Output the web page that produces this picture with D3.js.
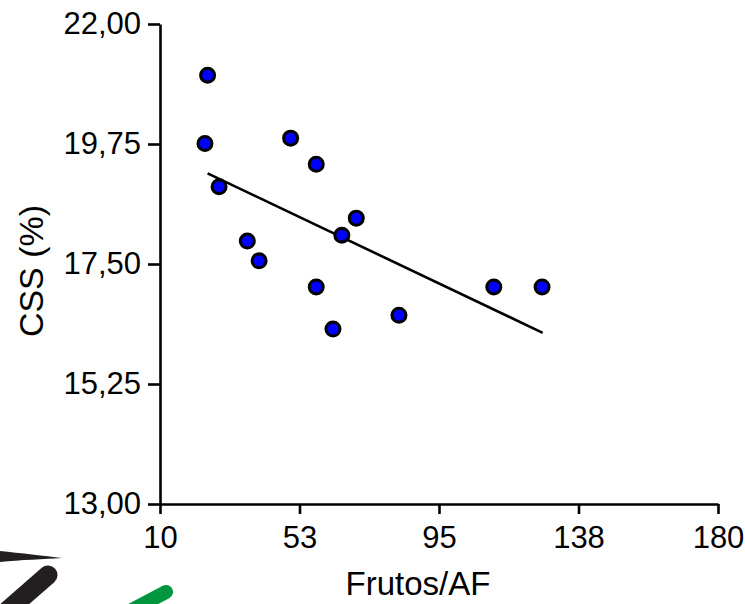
<!DOCTYPE html>
<html>
<head>
<meta charset="utf-8">
<script src="https://cdn.jsdelivr.net/npm/d3@7"></script>
<style>
  body { margin: 0; background: #fff; }
  text { font-family: "Liberation Sans", Arial, sans-serif; fill: #000; }
</style>
</head>
<body>
<script>
// Frutos/AF vs CSS (%) scatter with fitted line

const frutos = [24.5, 23.7, 28.0, 49.8, 57.6, 36.6, 40.2, 69.8, 65.4, 57.6, 62.7, 82.8, 111.7, 126.4];
const css    = [21.04, 19.76, 18.95, 19.86, 19.37, 17.93, 17.56, 18.36, 18.04, 17.07, 16.28, 16.54, 17.07, 17.07];

// ends of the regression line
const trendX = [24.5, 126.6];
const trendY = [19.20, 16.21];

const xTicks = [10, 52.5, 95, 137.5, 180];
const yTicks = [13, 15.25, 17.5, 19.75, 22];

let svg = null;
let x, y = null;

const W = 745, H = 604;
const plot = {left: 160, right: 718, top: 24, bottom: 504};

appendSvg("body");
appendDecoration();
setupScales();
appendXAxis();
appendYAxis();
appendTrend();
appendPoints();
appendLabels();

function appendSvg(domElement) {
  svg = d3.select(domElement).append("svg")
    .attr("width", W)
    .attr("height", H);
}

// bits of a logo cut off at the lower left corner
function appendDecoration() {
  const g = svg.append("g");
  g.append("path")
    .attr("d", "M0,551 C20,553 45,556 62,558 C45,559 20,560 0,562 Z")
    .attr("fill", "#231f20");
  g.append("path")
    .attr("d", "M48,575 L8,610")
    .attr("stroke", "#231f20")
    .attr("stroke-width", 19)
    .attr("stroke-linecap", "round");
  g.append("path")
    .attr("d", "M166,592 L128,612")
    .attr("stroke", "#009640")
    .attr("stroke-width", 14)
    .attr("stroke-linecap", "round");
}

function setupScales() {
  x = d3.scaleLinear()
    .domain([10, 180])
    .range([plot.left, plot.right]);

  y = d3.scaleLinear()
    .domain([13, 22])
    .range([plot.bottom, plot.top]);
}

function appendXAxis() {
  const ax = svg.append("g")
    .attr("transform", `translate(0, ${plot.bottom})`)
    .call(d3.axisBottom(x)
      .tickValues(xTicks)
      .tickFormat(d => Math.round(d))
      .tickSize(10)
      .tickSizeOuter(0)
      .tickPadding(12));
  styleAxis(ax);
}

function appendYAxis() {
  const fmt = d3.formatLocale({decimal: ",", thousands: ".", grouping: [3], currency: ["", ""]}).format(".2f");
  const ax = svg.append("g")
    .attr("transform", `translate(${plot.left}, 0)`)
    .call(d3.axisLeft(y)
      .tickValues(yTicks)
      .tickFormat(fmt)
      .tickSize(12)
      .tickSizeOuter(0)
      .tickPadding(7));
  styleAxis(ax);
}

function styleAxis(ax) {
  ax.select(".domain").attr("stroke", "#000").attr("stroke-width", 2.6);
  ax.selectAll(".tick line").attr("stroke", "#000").attr("stroke-width", 2.6);
  ax.selectAll(".tick text")
    .style("font-family", "'Liberation Sans', Arial, sans-serif")
    .style("font-size", "31px")
    .attr("fill", "#000");
}

function appendTrend() {
  const line = d3.line()
    .x(d => x(d[0]))
    .y(d => y(d[1]));
  svg.append("path")
    .datum(trendX.map((v, i) => [v, trendY[i]]))
    .attr("d", line)
    .attr("fill", "none")
    .attr("stroke", "#000")
    .attr("stroke-width", 2.6);
}

function appendPoints() {
  svg.append("g")
    .selectAll("circle")
    .data(frutos)
    .enter()
      .append("circle")
        .attr("cx", d => x(d))
        .attr("cy", (d, i) => y(css[i]))
        .attr("r", 7)
        .attr("fill", "#0000ff")
        .attr("stroke", "#000")
        .attr("stroke-width", 3);
}

function appendLabels() {
  svg.append("text")
    .attr("x", (plot.left + plot.right) / 2 - 21)
    .attr("y", 595)
    .attr("text-anchor", "middle")
    .style("font-size", "33px")
    .text("Frutos/AF");

  svg.append("text")
    .attr("transform", "translate(43, 271) rotate(-90)")
    .attr("text-anchor", "middle")
    .style("font-size", "34px")
    .text("CSS (%)");
}
</script>
</body>
</html>
